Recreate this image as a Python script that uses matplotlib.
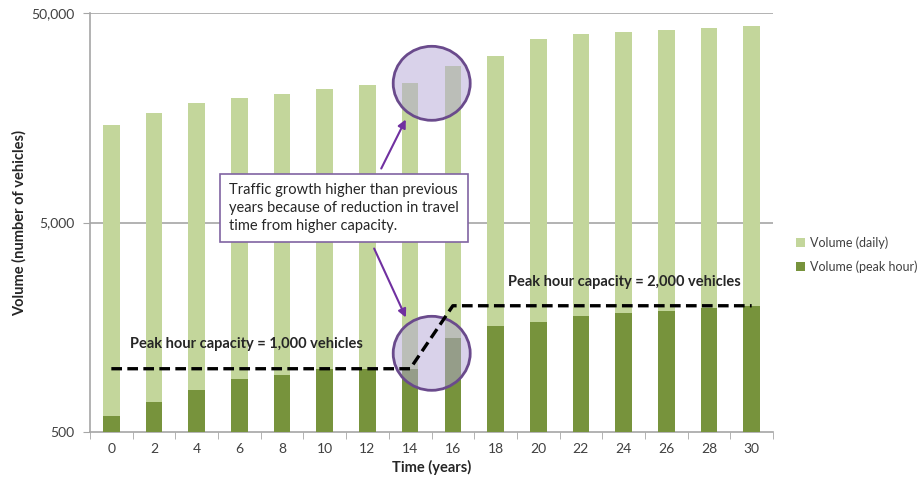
import numpy as np
import matplotlib
matplotlib.use('Agg')
from matplotlib import pyplot as plt
from matplotlib.patches import Ellipse

plt.rcParams['font.family'] = ['Lato', 'DejaVu Sans']

years = [0, 2, 4, 6, 8, 10, 12, 14, 16, 18, 20, 22, 24, 26, 28, 30]
daily = [14600, 16600, 18700, 19600, 20600, 21800, 22600, 23300,
         28100, 31300, 37600, 39700, 40600, 41600, 42700, 43400]
peak = [595, 695, 790, 890, 935, 995, 1000, 1000,
        1400, 1600, 1680, 1790, 1840, 1890, 1955, 1990]
cap_years = [0, 14, 16, 30]
capacity = [1000, 1000, 2000, 2000]
ytick_vals = [500, 5000, 50000]
ytick_labels = ["500", "5,000", "50,000"]

light = "#C3D69B"
dark = "#77933C"
grid = "#A6A6A6"

fig = plt.figure(figsize=(9.22, 4.78), dpi=100)
ax = fig.add_axes([90/922, 1-431.7/478, 683/922, 418.4/478])

x = np.arange(len(years))
ax.bar(x, daily, width=0.39, color=light, label="Volume (daily)", zorder=2)
ax.bar(x, peak, width=0.39, color=dark, label="Volume (peak hour)", zorder=3)

cap_x = np.array(cap_years) / 2
ax.plot(cap_x, capacity, color="black", linestyle=(0, (3.2, 1.6)), linewidth=2.4, zorder=10)

ax.set_yscale('log')
ax.set_ylim(500, 50000)
ax.set_xlim(-0.5, len(years) - 0.5)
ax.set_yticks(ytick_vals)
ax.set_yticklabels(ytick_labels)
ax.yaxis.set_minor_locator(matplotlib.ticker.NullLocator())
ax.set_xticks(x)
ax.set_xticklabels([str(y) for y in years])
ax.set_xticks(np.arange(len(years) + 1) - 0.5, minor=True)
ax.tick_params(axis='x', which='major', length=0, pad=8, labelsize=10, colors="#404040")
ax.tick_params(axis='x', which='minor', length=5, color=grid)
ax.tick_params(axis='y', length=5, color=grid, labelsize=10, labelcolor="#404040", pad=6)
for v in ytick_vals[1:]:
    ax.axhline(v, color=grid, linewidth=1.2, zorder=1)
for s in ['top', 'right']:
    ax.spines[s].set_visible(False)
ax.spines['left'].set_color(grid)
ax.spines['bottom'].set_color(grid)
ax.spines['left'].set_linewidth(1.2)
ax.spines['bottom'].set_linewidth(1.2)

ax.set_xlabel("Time (years)", fontsize=10.5, fontweight='bold', color="#262626", labelpad=4)
ax.set_ylabel("Volume (number of vehicles)", fontsize=10.5, fontweight='bold', color="#262626")
ax.yaxis.set_label_coords(-(90 - 27) / 683, 0.5)

# capacity labels
fig.text(130/922, 1-344/478, "Peak hour capacity = 1,000 vehicles",
         ha='left', va='center', fontsize=10.5, fontweight='bold', color="#262626", zorder=6)
fig.text(508/922, 1-282/478, "Peak hour capacity = 2,000 vehicles",
         ha='left', va='center', fontsize=10.5, fontweight='bold', color="#262626", zorder=6)

# highlight circles
def add_circle(cx, cy, w, h):
    e = Ellipse((cx/922, 1-cy/478), w/922, h/478, transform=fig.transFigure,
                facecolor="#B4A7D6", alpha=0.5, edgecolor="none", zorder=7)
    ax.add_patch(e)
    e2 = Ellipse((cx/922, 1-cy/478), w/922, h/478, transform=fig.transFigure,
                 facecolor="none", edgecolor="#6A4A8C", linewidth=2, zorder=8)
    ax.add_patch(e2)

add_circle(431.7, 83.3, 77, 74)
add_circle(431.7, 353.3, 77, 74)

# callout
fig.text(229/922, 1-208/478,
         "Traffic growth higher than previous\nyears because of reduction in travel\ntime from higher capacity.",
         ha='left', va='center', fontsize=10.5, color="#262626", linespacing=1.38, zorder=9,
         bbox=dict(boxstyle='square,pad=0.6', facecolor='white', edgecolor="#8064A2", linewidth=1.2))
arrow = dict(arrowstyle='-|>', color="#7030A0", linewidth=1.5, mutation_scale=12)
ax.annotate("", xy=(407/922, 1-117/478), xytext=(380/922, 1-171/478),
            xycoords='figure fraction', textcoords='figure fraction', arrowprops=arrow, zorder=11)
ax.annotate("", xy=(407/922, 1-320/478), xytext=(373/922, 1-246/478),
            xycoords='figure fraction', textcoords='figure fraction', arrowprops=arrow, zorder=11)

fig.legend(loc='upper left', bbox_to_anchor=(785/922, 1-225/478), frameon=False,
           fontsize=9, handlelength=0.7, handleheight=0.7, handletextpad=0.4,
           labelspacing=0.9, labelcolor="#404040")

plt.savefig("out.png", dpi=100)
